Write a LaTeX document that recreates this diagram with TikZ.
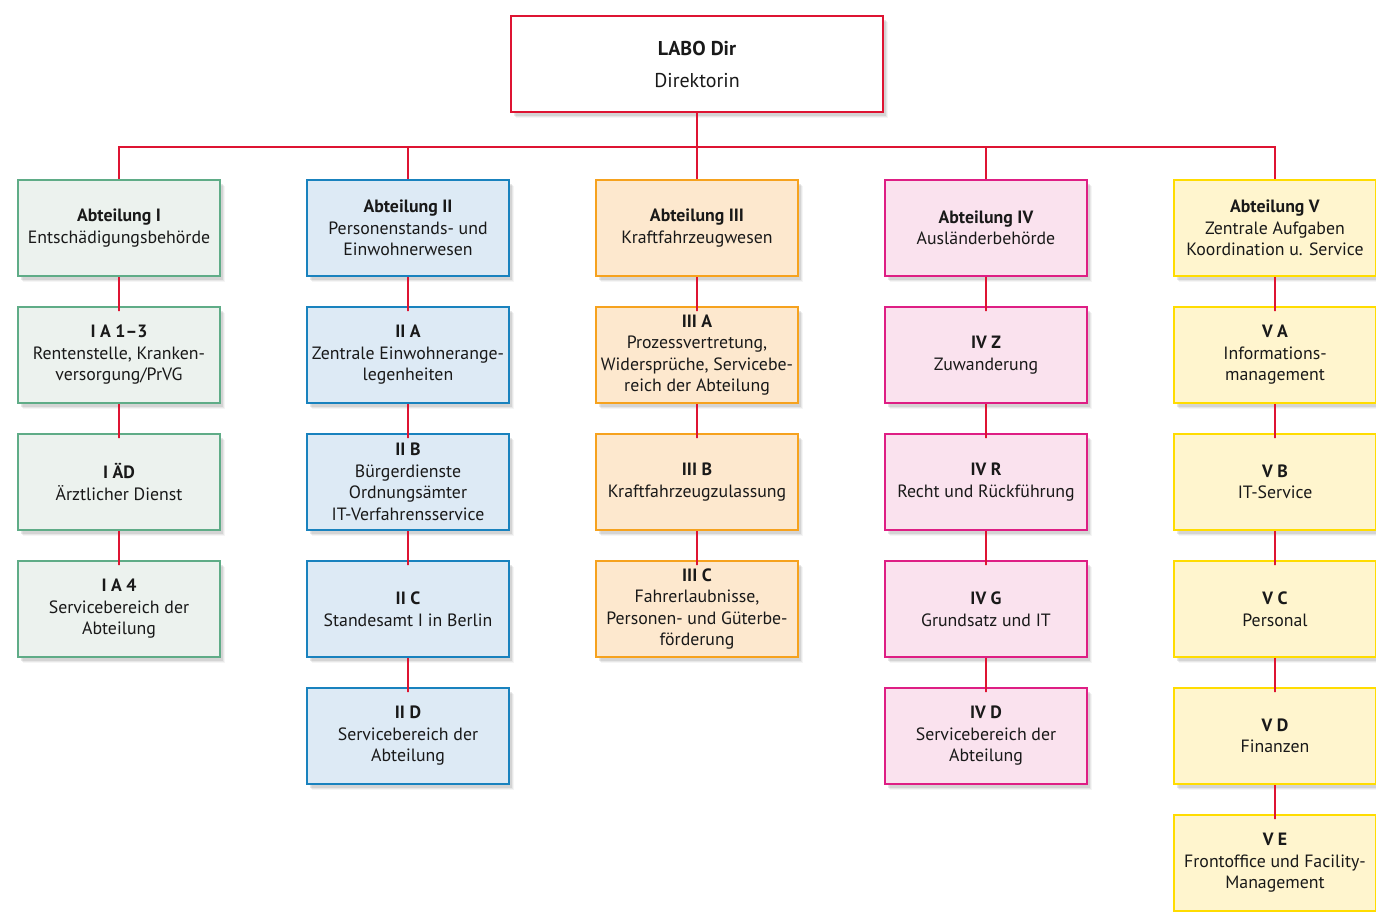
\documentclass[tikz,border=0pt]{standalone}
\usepackage{fontspec}
\setmainfont{PT Sans}
\usetikzlibrary{shadows}

\definecolor{labored}{RGB}{222,20,50}
\definecolor{grline}{RGB}{95,172,135}
\definecolor{grfill}{RGB}{236,242,238}
\definecolor{blline}{RGB}{25,130,190}
\definecolor{blfill}{RGB}{221,234,245}
\definecolor{orline}{RGB}{246,162,30}
\definecolor{orfill}{RGB}{253,232,206}
\definecolor{mgline}{RGB}{222,30,132}
\definecolor{mgfill}{RGB}{250,226,238}
\definecolor{ylline}{RGB}{255,220,0}
\definecolor{ylfill}{RGB}{255,245,206}

\tikzset{
  unit/.style={rectangle, line width=2pt, minimum width=202pt, minimum height=96pt,
    align=center, inner sep=1pt, text=black!90,
    font=\fontsize{17.8}{21.5}\selectfont,
    drop shadow={shadow xshift=5pt, shadow yshift=-6pt, opacity=0.08},
    drop shadow={shadow xshift=4pt, shadow yshift=-5pt, opacity=0.12},
    drop shadow={shadow xshift=3pt, shadow yshift=-4pt, opacity=0.18}},
  top/.style={unit, draw=labored, fill=white, minimum width=372pt,
    font=\fontsize{20}{24}\selectfont},
  gI/.style={unit, draw=grline, fill=grfill},
  bII/.style={unit, draw=blline, fill=blfill},
  oIII/.style={unit, draw=orline, fill=orfill},
  mIV/.style={unit, draw=mgline, fill=mgfill},
  yV/.style={unit, draw=ylline, fill=ylfill},
}

\begin{document}
\begin{tikzpicture}[grow=down,
  level/.style={level distance=127pt},
  level 1/.style={sibling distance=289pt, level distance=164pt,
    edge from parent path={(\tikzparentnode.south) -- ++(0,-34pt) -| (\tikzchildnode.north)}},
  edge from parent/.style={draw=labored, line width=2pt}]
\clip (0,0) rectangle (1376pt,-911pt);
\node [top] (dir) at (697pt,-64pt) {\textbf{LABO Dir}\\[8pt]Direktorin}
  child {
  node [gI] (a1) {\textbf{Abteilung I}\\Entschädigungsbehörde}
    child {
    node [gI] (a1a) {\textbf{I A 1–3}\\Rentenstelle, Kranken-\\versorgung/PrVG}
      child {
      node [gI] (a1b) {\textbf{I ÄD}\\Ärztlicher Dienst}
        child {
        node [gI] (a1c) {\textbf{I A 4}\\Servicebereich der\\Abteilung}
        }
      }
    }
  }
  child {
  node [bII] (a2) {\textbf{Abteilung II}\\Personenstands- und\\Einwohnerwesen}
    child {
    node [bII] (a2a) {\textbf{II A}\\Zentrale Einwohnerange-\\legenheiten}
      child {
      node [bII] (a2b) {\textbf{II B}\\Bürgerdienste\\Ordnungsämter\\IT-Verfahrensservice}
        child {
        node [bII] (a2c) {\textbf{II C}\\Standesamt I in Berlin}
          child {
          node [bII] (a2d) {\textbf{II D}\\Servicebereich der\\Abteilung}
          }
        }
      }
    }
  }
  child {
  node [oIII] (a3) {\textbf{Abteilung III}\\Kraftfahrzeugwesen}
    child {
    node [oIII] (a3a) {\textbf{III A}\\Prozessvertretung,\\Widersprüche, Servicebe-\\reich der Abteilung}
      child {
      node [oIII] (a3b) {\textbf{III B}\\Kraftfahrzeugzulassung}
        child {
        node [oIII] (a3c) {\textbf{III C}\\Fahrerlaubnisse,\\Personen- und Güterbe-\\förderung}
        }
      }
    }
  }
  child {
  node [mIV] (a4) {\textbf{Abteilung IV}\\Ausländerbehörde}
    child {
    node [mIV] (a4z) {\textbf{IV Z}\\Zuwanderung}
      child {
      node [mIV] (a4r) {\textbf{IV R}\\Recht und Rückführung}
        child {
        node [mIV] (a4g) {\textbf{IV G}\\Grundsatz und IT}
          child {
          node [mIV] (a4d) {\textbf{IV D}\\Servicebereich der\\Abteilung}
          }
        }
      }
    }
  }
  child {
  node [yV] (a5) {\textbf{Abteilung V}\\Zentrale Aufgaben\\Koordination u. Service}
    child {
    node [yV] (a5a) {\textbf{V A}\\Informations-\\management}
      child {
      node [yV] (a5b) {\textbf{V B}\\IT-Service}
        child {
        node [yV] (a5c) {\textbf{V C}\\Personal}
          child {
          node [yV] (a5d) {\textbf{V D}\\Finanzen}
            child {
            node [yV] (a5e) {\textbf{V E}\\Frontoffice und Facility-\\Management}
            }
          }
        }
      }
    }
  };
\end{tikzpicture}
\end{document}
